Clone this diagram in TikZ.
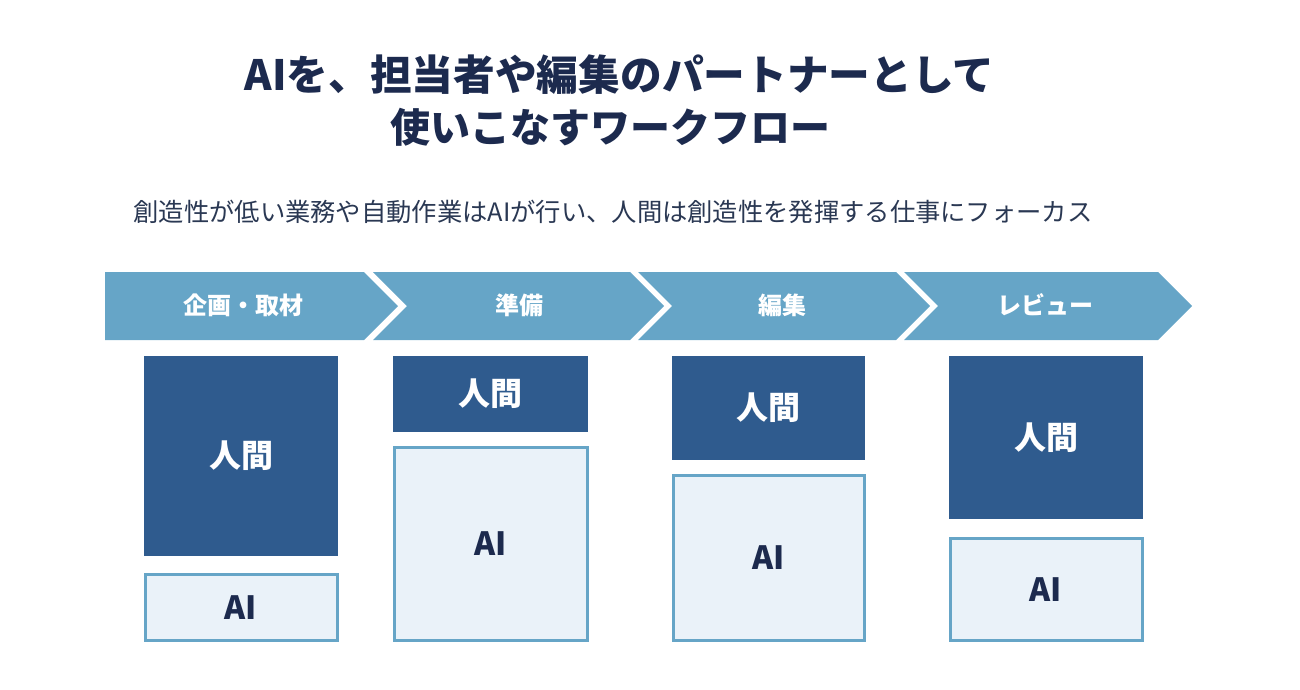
\documentclass[tikz,border=0pt]{standalone}
\usepackage{fontspec}
\newfontfamily\jp{Noto Sans CJK JP}
\definecolor{navy}{HTML}{1C2A4E}
\definecolor{subtxt}{HTML}{2A3853}
\definecolor{chev}{HTML}{66A5C7}
\definecolor{human}{HTML}{2F5B8E}
\definecolor{aifill}{HTML}{EAF2F9}
\tikzset{
  titletext/.style={text=navy, inner sep=0pt},
  chevshape/.style={fill=chev, draw=none},
  chevlabel/.style={font=\jp\bfseries\fontsize{24}{28}\selectfont, text=white, inner sep=0pt},
  humanbox/.style={fill=human, draw=none, inner sep=0pt, font=\jp\bfseries\fontsize{32}{36}\selectfont, text=white},
  aibox/.style={fill=aifill, draw=chev, line width=3pt, inner sep=0pt, font=\jp\bfseries\fontsize{32}{36}\selectfont, text=navy},
}
\begin{document}
\begin{tikzpicture}[x=1pt,y=-1pt]
\useasboundingbox (0,0) rectangle (1300,689);
% title
\node[titletext, font=\jp\bfseries\fontsize{41.7}{50}\selectfont] (title1) at (619.5,75)
  {AIを、担当者や編集のパートナーとして};
\node[titletext, font=\jp\bfseries\fontsize{40}{50}\selectfont] (title2) at (610,127)
  {使いこなすワークフロー};
\node[font=\jp\fontsize{25.3}{30}\selectfont, text=subtxt, inner sep=0pt] (sub) at (613,212)
  {創造性が低い業務や自動作業はAIが行い、人間は創造性を発揮する仕事にフォーカス};
% chevrons
\fill[chevshape] (105,272) -- (364,272) -- (398,306) -- (364,340) -- (105,340) -- cycle;
\fill[chevshape] (373,272) -- (630,272) -- (664,306) -- (630,340) -- (373,340) -- (407,306) -- cycle;
\fill[chevshape] (638,272) -- (896,272) -- (930,306) -- (896,340) -- (638,340) -- (672,306) -- cycle;
\fill[chevshape] (904,272) -- (1158,272) -- (1192,306) -- (1158,340) -- (904,340) -- (938,306) -- cycle;
\node[chevlabel] (c1) at (243,305) {企画・取材};
\node[chevlabel] (c2) at (519,305) {準備};
\node[chevlabel] (c3) at (782,305) {編集};
\node[chevlabel] (c4) at (1045,305) {レビュー};
% column 1
\node[humanbox, minimum width=194pt, minimum height=200pt] (h1) at (241,456) {人間};
\node[aibox, minimum width=192pt, minimum height=66pt] (a1) at (241,607.5) {AI};
% column 2
\node[humanbox, minimum width=195pt, minimum height=76pt] (h2) at (490.5,394) {人間};
\node[aibox, minimum width=193pt, minimum height=193pt] (a2) at (491,544) {AI};
% column 3
\node[humanbox, minimum width=193pt, minimum height=104pt] (h3) at (768.5,408) {人間};
\node[aibox, minimum width=191pt, minimum height=165pt] (a3) at (768.5,558) {AI};
% column 4
\node[humanbox, minimum width=194pt, minimum height=163pt] (h4) at (1046,437.5) {人間};
\node[aibox, minimum width=192pt, minimum height=102pt] (a4) at (1046,589.5) {AI};
\end{tikzpicture}
\end{document}
